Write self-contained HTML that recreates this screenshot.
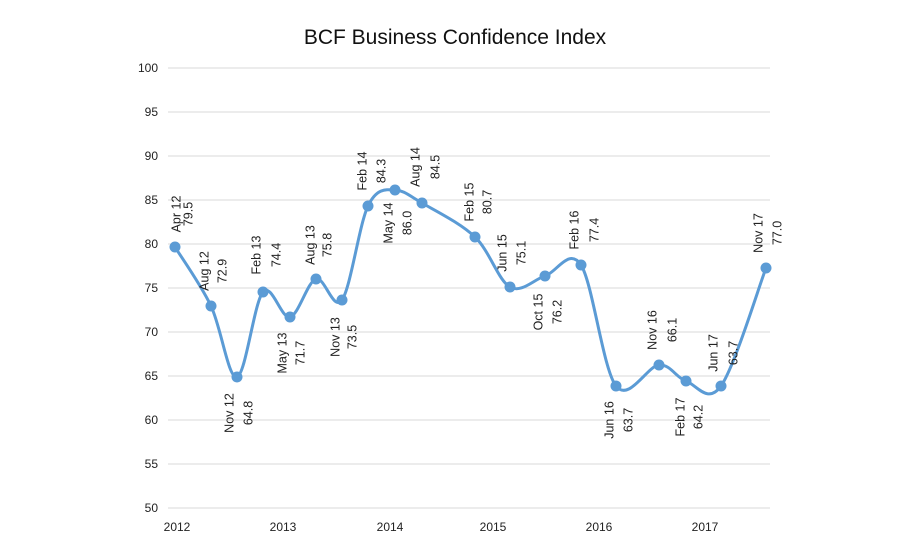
<!DOCTYPE html>
<html><head><style>body{margin:0;background:#fff}svg{display:block}</style></head><body>
<svg width="900" height="550" viewBox="0 0 900 550" xmlns="http://www.w3.org/2000/svg" font-family="Liberation Sans, sans-serif">
<rect width="900" height="550" fill="#fff"/>
<text x="455" y="44" font-size="21" text-anchor="middle" fill="#111">BCF Business Confidence Index</text>
<g stroke="#d9d9d9" stroke-width="1">
<line x1="168" x2="770" y1="68" y2="68"/><line x1="168" x2="770" y1="112" y2="112"/>
<line x1="168" x2="770" y1="156" y2="156"/><line x1="168" x2="770" y1="200" y2="200"/>
<line x1="168" x2="770" y1="244" y2="244"/><line x1="168" x2="770" y1="288" y2="288"/>
<line x1="168" x2="770" y1="332" y2="332"/><line x1="168" x2="770" y1="376" y2="376"/>
<line x1="168" x2="770" y1="420" y2="420"/><line x1="168" x2="770" y1="464" y2="464"/>
<line x1="168" x2="770" y1="508" y2="508"/>
</g>
<g font-size="12" fill="#222" text-anchor="end">
<text x="158" y="72">100</text><text x="158" y="116">95</text><text x="158" y="160">90</text>
<text x="158" y="204">85</text><text x="158" y="248">80</text><text x="158" y="292">75</text>
<text x="158" y="336">70</text><text x="158" y="380">65</text><text x="158" y="424">60</text>
<text x="158" y="468">55</text><text x="158" y="512">50</text>
</g>
<g font-size="12" fill="#222" text-anchor="middle">
<text x="177" y="531">2012</text><text x="283" y="531">2013</text><text x="390" y="531">2014</text>
<text x="493" y="531">2015</text><text x="599" y="531">2016</text><text x="705" y="531">2017</text>
</g>
<path fill="none" stroke="#5b9bd5" stroke-width="3" d="M175,247 C181,256.8 200.7,284.3 211,306 C221.3,327.7 228.3,379.3 237,377 C245.7,374.7 254.2,302 263,292 C271.8,282 281.2,319.2 290,317 C298.8,314.8 307.3,281.8 316,279 C324.7,276.2 333.3,312.2 342,300 C350.7,287.8 359.2,224.3 368,206 C376.8,187.7 386,189.5 395,190 C404,190.5 408.7,195.2 422,203 C435.3,210.8 460.3,223 475,237 C489.7,251 498.3,280.5 510,287 C521.7,293.5 533.2,279.7 545,276 C556.8,272.3 569.2,246.7 581,265 C592.8,283.3 603,369.3 616,386 C629,402.7 647.3,365.8 659,365 C670.7,364.2 675.7,377.5 686,381 C696.3,384.5 707.7,404.8 721,386 C734.3,367.2 758.5,287.7 766,268"/>
<g fill="#5b9bd5">
<circle cx="175" cy="247" r="5.5"/><circle cx="211" cy="306" r="5.5"/><circle cx="237" cy="377" r="5.5"/>
<circle cx="263" cy="292" r="5.5"/><circle cx="290" cy="317" r="5.5"/><circle cx="316" cy="279" r="5.5"/>
<circle cx="342" cy="300" r="5.5"/><circle cx="368" cy="206" r="5.5"/><circle cx="395" cy="190" r="5.5"/>
<circle cx="422" cy="203" r="5.5"/><circle cx="475" cy="237" r="5.5"/><circle cx="510" cy="287" r="5.5"/>
<circle cx="545" cy="276" r="5.5"/><circle cx="581" cy="265" r="5.5"/><circle cx="616" cy="386" r="5.5"/>
<circle cx="659" cy="365" r="5.5"/><circle cx="686" cy="381" r="5.5"/><circle cx="721" cy="386" r="5.5"/>
<circle cx="766" cy="268" r="5.5"/>
</g>
<g font-size="12.5" fill="#222" text-anchor="middle">
<text x="180.5" y="214" transform="rotate(-90 180.5 214)">Apr 12</text><text x="192.5" y="214" transform="rotate(-90 192.5 214)">79.5</text>
<text x="208.5" y="271" transform="rotate(-90 208.5 271)">Aug 12</text><text x="226.5" y="271" transform="rotate(-90 226.5 271)">72.9</text>
<text x="233.5" y="413" transform="rotate(-90 233.5 413)">Nov 12</text><text x="252.5" y="413" transform="rotate(-90 252.5 413)">64.8</text>
<text x="260.5" y="255" transform="rotate(-90 260.5 255)">Feb 13</text><text x="280.5" y="255" transform="rotate(-90 280.5 255)">74.4</text>
<text x="286.5" y="353" transform="rotate(-90 286.5 353)">May 13</text><text x="304.5" y="353" transform="rotate(-90 304.5 353)">71.7</text>
<text x="314.5" y="245" transform="rotate(-90 314.5 245)">Aug 13</text><text x="331.5" y="245" transform="rotate(-90 331.5 245)">75.8</text>
<text x="339.5" y="337" transform="rotate(-90 339.5 337)">Nov 13</text><text x="356.5" y="337" transform="rotate(-90 356.5 337)">73.5</text>
<text x="366.5" y="171" transform="rotate(-90 366.5 171)">Feb 14</text><text x="385.5" y="171" transform="rotate(-90 385.5 171)">84.3</text>
<text x="392.5" y="223" transform="rotate(-90 392.5 223)">May 14</text><text x="411.5" y="223" transform="rotate(-90 411.5 223)">86.0</text>
<text x="419.5" y="167" transform="rotate(-90 419.5 167)">Aug 14</text><text x="439.5" y="167" transform="rotate(-90 439.5 167)">84.5</text>
<text x="473.5" y="202" transform="rotate(-90 473.5 202)">Feb 15</text><text x="491.5" y="202" transform="rotate(-90 491.5 202)">80.7</text>
<text x="506.5" y="253" transform="rotate(-90 506.5 253)">Jun 15</text><text x="525.5" y="253" transform="rotate(-90 525.5 253)">75.1</text>
<text x="542.5" y="312" transform="rotate(-90 542.5 312)">Oct 15</text><text x="561.5" y="312" transform="rotate(-90 561.5 312)">76.2</text>
<text x="578.5" y="230" transform="rotate(-90 578.5 230)">Feb 16</text><text x="598.5" y="230" transform="rotate(-90 598.5 230)">77.4</text>
<text x="613.5" y="420" transform="rotate(-90 613.5 420)">Jun 16</text><text x="632.5" y="420" transform="rotate(-90 632.5 420)">63.7</text>
<text x="656.5" y="330" transform="rotate(-90 656.5 330)">Nov 16</text><text x="676.5" y="330" transform="rotate(-90 676.5 330)">66.1</text>
<text x="684.5" y="417" transform="rotate(-90 684.5 417)">Feb 17</text><text x="702.5" y="417" transform="rotate(-90 702.5 417)">64.2</text>
<text x="717.5" y="353" transform="rotate(-90 717.5 353)">Jun 17</text><text x="737.5" y="353" transform="rotate(-90 737.5 353)">63.7</text>
<text x="762.5" y="233" transform="rotate(-90 762.5 233)">Nov 17</text><text x="781.5" y="233" transform="rotate(-90 781.5 233)">77.0</text>
</g>
</svg>
</body></html>
